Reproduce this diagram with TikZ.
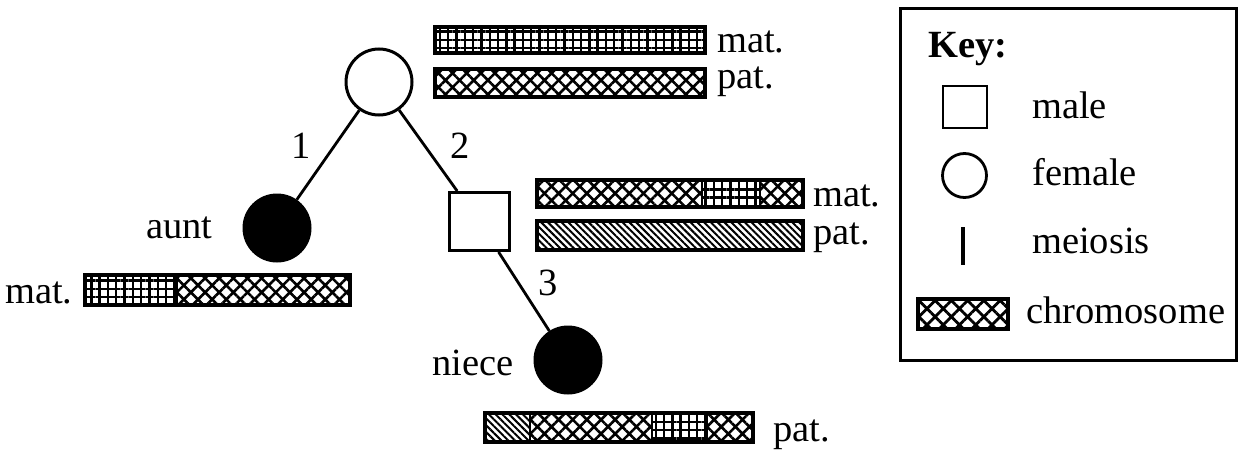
\documentclass[tikz,border=0pt]{standalone}
\usepackage{fontspec}
\setmainfont{Liberation Serif}
\usetikzlibrary{patterns.meta}

\tikzset{
  person/.style={draw, line width=3pt, inner sep=0pt},
  female/.style={person, circle, minimum size=66pt},
  affected/.style={female, fill=black},
  male/.style={person, rectangle, minimum width=60pt, minimum height=58pt},
  link/.style={line width=2.8pt},
  lbl/.style={inner sep=0pt, font=\fontsize{38.5}{41}\selectfont},
  xhatch/.style={pattern={Hatch[angle=45,distance=10pt,line width=2.6pt]}},
  bigxhatch/.style={pattern={Hatch[angle=45,distance=11.5pt,line width=2.8pt]}},
  sqgrid/.style={pattern={Hatch[angle=0,distance=8.3pt,line width=2.4pt]}},
  slant/.style={pattern={Lines[angle=-45,distance=4.8pt,line width=2pt]}},
  barline/.style={line width=3.4pt},
  segline/.style={line width=2pt},
}

% chromosome bar: \chrombar{x0}{x1}{ytop}{ybot}{segment list as style/xend pairs}
\newcommand{\chrombar}[5]{%
  \def\cbstart{#1}%
  \foreach \sty/\xe in {#5}{%
    \fill[\sty] (\cbstart,#3) rectangle (\xe,#4);
    \draw[segline] (\xe,#3) -- (\xe,#4);
    \global\let\cbstart\xe
  }%
  \draw[barline] (#1,#3) rectangle (#2,#4);
}

\begin{document}
\begin{tikzpicture}[x=1pt,y=-1pt]
\useasboundingbox (0,0) rectangle (1239,455);

% pedigree
\node[female]   (grandma) at (379,82)  {};
\node[affected] (aunt)    at (277,228) {};
\node[male]     (father)  at (479,221.5) {};
\node[affected] (niece)   at (568,360) {};

\draw[link] (grandma) -- (aunt);
\draw[link] (grandma) -- (father);
\draw[link] (father) -- (niece);

\node[lbl] (m1) at (301,146) {1};
\node[lbl] (m2) at (460,146) {2};
\node[lbl] (m3) at (548,283) {3};

\node[lbl, anchor=base west] (auntname)  at (146,238) {aunt};
\node[lbl, anchor=base west] (niecename) at (432,375) {niece};

% grandmother's chromosomes
\chrombar{435}{705}{27}{53}{sqgrid/705}
\chrombar{435}{705}{69}{97}{xhatch/705}
\node[lbl, anchor=base west] (gmmat) at (717,52) {mat.};
\node[lbl, anchor=base west] (gmpat) at (717,88) {pat.};

% father's chromosomes
\chrombar{537}{803}{180}{207}{xhatch/702,sqgrid/760,xhatch/803}
\chrombar{537}{803}{221}{250}{slant/803}
\node[lbl, anchor=base west] (fmat) at (813,206) {mat.};
\node[lbl, anchor=base west] (fpat) at (813,244) {pat.};

% aunt's chromosome
\chrombar{85}{350}{275}{305}{sqgrid/177,xhatch/350}
\node[lbl, anchor=base west] (amat) at (5,303) {mat.};

% niece's chromosome
\chrombar{485}{753}{413}{442}{slant/530,xhatch/652,sqgrid/707,xhatch/753}
\node[lbl, anchor=base west] (npat) at (773,441) {pat.};

% key
\node[draw, line width=3pt, minimum width=336pt, minimum height=352pt, inner sep=0pt]
  (keybox) at (1068,184) {};
\node[lbl, anchor=base west, font=\fontsize{38.5}{41}\selectfont\bfseries] (keytitle) at (928,57) {Key:};
\node[draw, line width=2.8pt, minimum width=44pt, minimum height=42pt, inner sep=0pt]
  (keymale) at (965,107) {};
\node[lbl, anchor=base west] (keymaletxt) at (1032,118) {male};
\node[draw, circle, line width=2.8pt, minimum size=44pt, inner sep=0pt]
  (keyfemale) at (964.5,175.5) {};
\node[lbl, anchor=base west] (keyfemaletxt) at (1032,185) {female};
\coordinate (meioA) at (963,227);
\coordinate (meioB) at (963,265);
\draw[line width=3.2pt] (meioA) -- (meioB);
\node[lbl, anchor=base west] (keymeiotxt) at (1032,253) {meiosis};
\chrombar{918}{1008}{299}{329}{bigxhatch/1008}
\node[lbl, anchor=base west] (keychromtxt) at (1026,323) {chromosome};
\end{tikzpicture}
\end{document}
